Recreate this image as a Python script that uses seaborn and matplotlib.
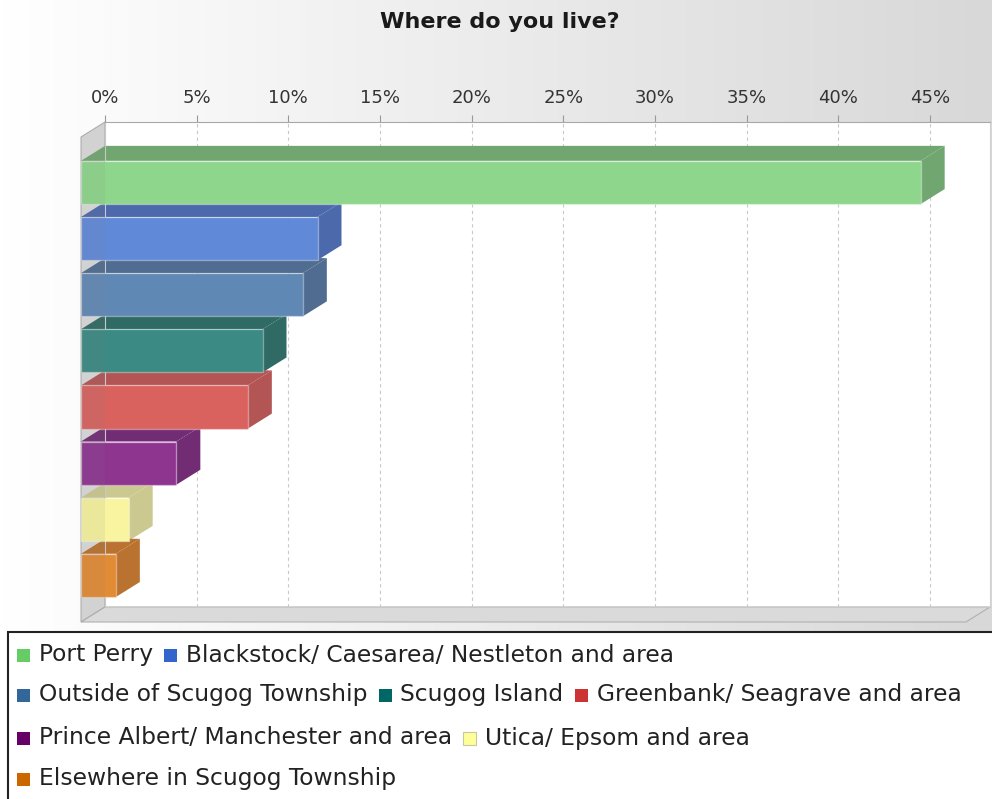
import numpy as np
import pandas as pd
import matplotlib
matplotlib.use("Agg")
import matplotlib.pyplot as plt
import seaborn as sns
from matplotlib.patches import Polygon, Rectangle
from matplotlib.colors import LinearSegmentedColormap
from matplotlib.ticker import FuncFormatter

# ---------------- data ----------------
categories = [
    "Port Perry",
    "Blackstock/ Caesarea/ Nestleton and area",
    "Outside of Scugog Township",
    "Scugog Island",
    "Greenbank/ Seagrave and area",
    "Prince Albert/ Manchester and area",
    "Utica/ Epsom and area",
    "Elsewhere in Scugog Township",
]
values = [45.8, 12.9, 12.1, 9.9, 9.1, 5.2, 2.6, 1.9]
front_colors = ["#8ED68B", "#6089D8", "#6088B5", "#3B8A83",
                "#D9625F", "#8E3590", "#F8F4A0", "#E28B35"]
shade_colors = ["#71A670", "#4C69AC", "#506C90", "#2F6A64",
                "#B35555", "#712C74", "#CBC98F", "#B9722F"]
legend_colors = ["#66CC66", "#3366CC", "#336699", "#006666",
                 "#CC3333", "#660066", "#FFFF99", "#CC6600"]
tick_values = [0, 5, 10, 15, 20, 25, 30, 35, 40, 45]
legend_rows = [[0, 1], [2, 3, 4], [5, 6], [7]]
title = "Where do you live?"

# ---------------- layout ----------------
W, H = 992, 799
sns.set_theme(style="white")
plt.rcParams["font.family"] = ["DejaVu Sans"]

fig = plt.figure(figsize=(W / 100, H / 100), dpi=100)
fig.patch.set_facecolor("white")

# gradient background
bg = fig.add_axes([0, 0, 1, 1], zorder=-10)
grad = np.linspace(0, 1, 256)[None, :]
cmap = LinearSegmentedColormap.from_list("g", ["#ffffff", "#d8d8d8"])
bg.imshow(grad, aspect="auto", cmap=cmap, extent=[0, 1, 0, 1])
bg.set_xlim(0, 1); bg.set_ylim(0, 1)
bg.axis("off")

# back wall axes
ax_l, ax_t, ax_r, ax_b = 105, 122, 990, 607
ax = fig.add_axes([ax_l / W, 1 - ax_b / H, (ax_r - ax_l) / W, (ax_b - ax_t) / H])
ax.set_facecolor("white")

df = pd.DataFrame({"category": categories, "value": values})
sns.barplot(data=df, y="category", x="value", hue="category",
            palette=dict(zip(categories, front_colors)), orient="h",
            width=0.77, legend=False, ax=ax, saturation=1)

px_per = 825 / 45.0
xmax = (ax_r - ax_l) / px_per
ytop, ybot = -0.81, 7.83
ax.set_xlim(0, xmax)
ax.set_ylim(ybot, ytop)
py_per = (ax_b - ax_t) / (ybot - ytop)
DX = 24 / px_per
DY = 15 / py_per

# walls
left_wall = Polygon([(0, ytop), (0, ybot), (-DX, ybot + DY), (-DX, ytop + DY)],
                    closed=True, facecolor="#dcdcdc", edgecolor="#b0b0b0",
                    lw=0.8, clip_on=False, zorder=0.5)
floor = Polygon([(0, ybot), (xmax, ybot), (xmax - DX, ybot + DY), (-DX, ybot + DY)],
                closed=True, facecolor="#dadada", edgecolor="#b0b0b0",
                lw=0.8, clip_on=False, zorder=0.5)
bar_patches = list(ax.patches)
ax.add_patch(left_wall)
ax.add_patch(floor)

# 3D bars
for p in bar_patches:
    y0 = p.get_y(); h = p.get_height(); w = p.get_width()
    idx = int(round(y0 + h / 2))
    shade = shade_colors[idx]
    top = Polygon([(0, y0), (w, y0), (w - DX, y0 + DY), (-DX, y0 + DY)],
                  closed=True, facecolor=shade, edgecolor="none",
                  clip_on=False, zorder=2)
    side = Polygon([(w, y0), (w, y0 + h), (w - DX, y0 + h + DY), (w - DX, y0 + DY)],
                   closed=True, facecolor=shade, edgecolor="none",
                   clip_on=False, zorder=2)
    ax.add_patch(top)
    ax.add_patch(side)
    p.set_x(p.get_x() - DX)
    p.set_y(y0 + DY)
    p.set_clip_on(False)
    p.set_zorder(3)
    p.set_edgecolor((1, 1, 1, 0.35))
    p.set_linewidth(1.0)

# translucent left wall tint over bars
ax.add_patch(Polygon([(0, ytop), (0, ybot), (-DX, ybot + DY), (-DX, ytop + DY)],
                     closed=True, facecolor=(0.5, 0.5, 0.5, 0.10), edgecolor="none",
                     clip_on=False, zorder=4))

# grid / axis
ax.set_axisbelow(True)
ax.grid(axis="x", linestyle=(0, (3, 3)), color="#c8c8c8", lw=0.8)
ax.grid(axis="y", visible=False)
ax.xaxis.tick_top()
ax.set_xticks(tick_values)
ax.xaxis.set_major_formatter(FuncFormatter(lambda v, _: f"{int(v)}%"))
ax.tick_params(axis="x", top=True, bottom=False, labeltop=True, labelbottom=False,
               length=5, width=0.8, color="#999999", labelsize=13, pad=6,
               labelcolor="#333333", direction="out")
ax.set_yticks([])
ax.set_xlabel("")
ax.set_ylabel("")
for s, c in [("top", "#a8a8a8"), ("left", "#c8c8c8"), ("right", "#d0d0d0"), ("bottom", "#c8c8c8")]:
    ax.spines[s].set_visible(True)
    ax.spines[s].set_color(c)
    ax.spines[s].set_linewidth(0.8)

# title
fig.text(500 / W, 1 - 22 / H, title, ha="center", va="center",
         fontsize=16, fontweight="bold", color="#1a1a1a")

# legend box
leg_top = 632
fig.patches.append(Rectangle((8 / W, -0.01), (W - 8) / W + 0.01, (H - leg_top) / H + 0.01,
                             transform=fig.transFigure, facecolor="white",
                             edgecolor="#222222", lw=1.5, zorder=1))
row_y = [655, 695, 738, 779]
renderer = fig.canvas.get_renderer()
sq = 13
for r, row in enumerate(legend_rows):
    yc = row_y[r]
    x = 17
    for idx in row:
        fig.patches.append(Rectangle((x / W, 1 - (yc + sq / 2) / H), sq / W, sq / H,
                                     transform=fig.transFigure,
                                     facecolor=legend_colors[idx],
                                     edgecolor="#c8c8a0" if idx == 6 else "none",
                                     lw=0.8, zorder=2))
        t = fig.text((x + sq + 9) / W, 1 - yc / H, categories[idx], ha="left",
                     va="center", fontsize=16.8, color="#222222", zorder=3)
        bb = t.get_window_extent(renderer)
        x = bb.x1 + 11

fig.savefig("out.png", dpi=100)
